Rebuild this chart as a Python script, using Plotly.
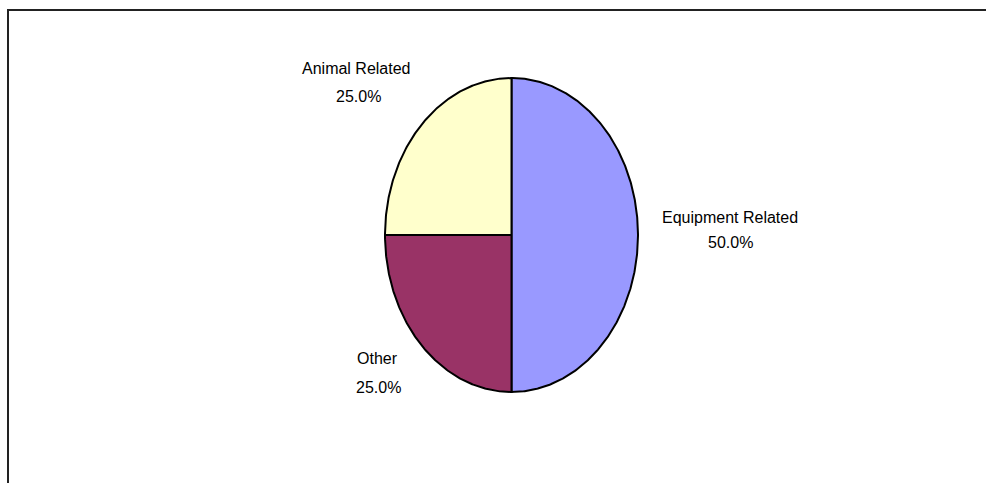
import numpy as np
import plotly.graph_objects as go

# ---- data ----
categories = ["Equipment Related", "Other", "Animal Related"]
values = [50.0, 25.0, 25.0]
colors = ["#9999FF", "#993366", "#FFFFCC"]

W, H = 986, 483
# pixel geometry of the (elliptical) pie
CX, CY, RX, RY = 511.5, 235.0, 126.5, 157.0

fig = go.Figure()

total = sum(values)
start = 0.0  # degrees, clockwise from 12 o'clock
for cat, val, col in zip(categories, values, colors):
    sweep = 360.0 * val / total
    n = max(int(sweep * 2), 4)
    th = np.radians(np.linspace(start, start + sweep, n))
    xs = np.concatenate([[0.0], np.sin(th), [0.0]])
    ys = np.concatenate([[0.0], np.cos(th), [0.0]])
    fig.add_trace(go.Scatter(
        x=xs, y=ys, mode="lines", fill="toself", fillcolor=col,
        line=dict(color="#000000", width=2), name=cat,
        hoverinfo="name", showlegend=False,
    ))
    start += sweep

# axis ranges so that unit circle maps to the ellipse in pixel space
xr = [(0 - CX) / RX, (W - CX) / RX]
yr = [-(H - CY) / RY, CY / RY]

# label placement (pixel centres): name line and percent line
label_pos = {
    "Equipment Related": ((730, 217), (730, 243)),
    "Other": ((377, 358), (378, 387)),
    "Animal Related": ((356, 69), (358, 97)),
}

annotations = []
for cat, val in zip(categories, values):
    (nx, ny), (px, py) = label_pos[cat]
    pct = f"{100 * val / total:.1f}%"
    for txt, x, y in ((cat, nx, ny), (pct, px, py)):
        annotations.append(dict(
            text=txt, x=x / W, y=1 - y / H, xref="paper", yref="paper",
            showarrow=False, xanchor="center", yanchor="middle",
            font=dict(family="Liberation Sans, Arial, sans-serif", size=16, color="#000000"),
        ))

fig.update_layout(
    width=W, height=H,
    margin=dict(l=0, r=0, t=0, b=0),
    paper_bgcolor="white", plot_bgcolor="white",
    xaxis=dict(range=xr, visible=False, fixedrange=True),
    yaxis=dict(range=yr, visible=False, fixedrange=True),
    annotations=annotations,
    shapes=[dict(
        type="path", xref="paper", yref="paper",
        path=f"M {8/W} 0 L {8/W} {1-10/H} L 1 {1-10/H}",
        line=dict(color="#222222", width=2),
    )],
    showlegend=False,
)

fig.write_html("out.html")
